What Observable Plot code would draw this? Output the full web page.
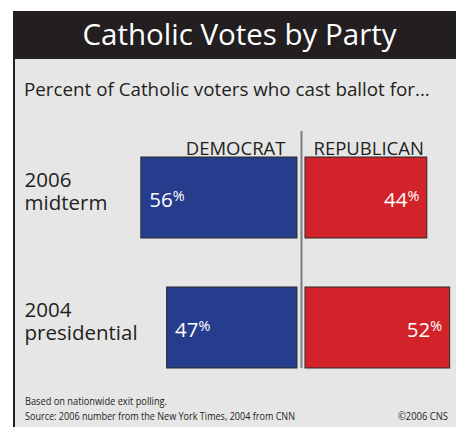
<!DOCTYPE html>
<html>
<head>
<meta charset="utf-8">
<script src="https://cdn.jsdelivr.net/npm/d3@7"></script>
<script src="https://cdn.jsdelivr.net/npm/@observablehq/plot@0.6"></script>
<style>
  html, body { margin: 0; padding: 0; background: #ffffff; }
  body { width: 456px; height: 427px; position: relative; overflow: hidden; font-family: "Open Sans", sans-serif; color: #231f20; }
  .band { position: absolute; left: 13px; top: 11px; width: 443px; height: 48px; background: #231f20; }
  .panel { position: absolute; left: 13px; top: 59px; width: 443px; height: 368px; background: #e6e6e6; border-left: 2px solid #231f20; box-sizing: border-box; }
  .t { position: absolute; white-space: nowrap; line-height: 1; }
  #title { left: 23px; width: 433px; text-align: center; color: #ffffff; font-size: 29.5px; top: 18.8px; }
  #subtitle { left: 24px; font-size: 18.8px; top: 80.3px; }
  .cap { font-size: 10.5px; transform-origin: 0 0; }
  #chart { position: absolute; left: 0; top: 0; }
</style>
</head>
<body>
<div class="band"></div>
<div class="panel"></div>
<div id="chart"></div>
<div class="t" id="title">Catholic Votes by Party</div>
<div class="t" id="subtitle">Percent of Catholic voters who cast ballot for...</div>
<div class="t cap" id="cap1" data-w="142" style="left:25px; top:395.7px;">Based on nationwide exit polling.</div>
<div class="t cap" id="cap2" data-w="270" style="left:25px; top:410.7px;">Source: 2006 number from the New York Times, 2004 from CNN</div>
<div class="t cap" id="cap3" data-w="50" data-right="448" style="top:410.7px;">©2006 CNS</div>
<script>
// ---- data ----
const rows = ["2006 midterm", "2004 presidential"];
const rowYears = ["2006", "2004"];
const rowKinds = ["midterm", "presidential"];
const parties = ["DEMOCRAT", "REPUBLICAN"];
const democrat = [56, 47];
const republican = [44, 52];

const table = rows.map((r, i) => ({row: r, year: rowYears[i], kind: rowKinds[i], dem: democrat[i], rep: republican[i]}));

const blue = "#253d8c", red = "#d2232a", ink = "#231f20";
const ML = 129.4;

const chart = Plot.plot({
  width: 456,
  height: 427,
  marginLeft: ML,
  marginRight: 0.6,
  marginTop: 108,
  marginBottom: 10,
  x: {domain: [-60, 54], axis: null},
  y: {domain: rows, axis: null, padding: 0.377, round: false},
  style: {background: "transparent", fontFamily: "'Open Sans', sans-serif", overflow: "visible"},
  marks: [
    Plot.barX(table, {x1: d => -d.dem, x2: 0, y: "row", fill: blue, stroke: "#2a2a2a", strokeWidth: 1, insetRight: 4}),
    Plot.barX(table, {x1: 0, x2: "rep", y: "row", fill: red, stroke: "#2a2a2a", strokeWidth: 1, insetLeft: 4}),
    Plot.ruleX([0], {stroke: "#7d7d7d", strokeWidth: 2, insetTop: 23, insetBottom: 49}),
    Plot.text([parties[0]], {x: 0, frameAnchor: "top", text: d => d, textAnchor: "end", dx: -16, dy: 33, fontSize: 18.5, fill: ink}),
    Plot.text([parties[1]], {x: 0, frameAnchor: "top", text: d => d, textAnchor: "start", dx: 12, dy: 33, fontSize: 18.5, fill: ink}),
    Plot.text(table, {y: "row", text: "year", frameAnchor: "left", textAnchor: "start", dx: 24 - ML, dy: -18, fontSize: 20.5, fill: ink}),
    Plot.text(table, {y: "row", text: "kind", frameAnchor: "left", textAnchor: "start", dx: 24 - ML, dy: 5, fontSize: 20.5, fill: ink}),
    Plot.text(table, {x: d => -d.dem, y: "row", text: d => d.dem + "%", textAnchor: "start", dx: 8, dy: 2, fontSize: 20.5, fill: "#ffffff"}),
    Plot.text(table, {x: "rep", y: "row", text: d => d.rep + "%", textAnchor: "end", dx: -8, dy: 2, fontSize: 20.5, fill: "#ffffff"})
  ]
});
document.getElementById("chart").appendChild(chart);

// superscript percent signs
d3.select(chart).selectAll("text").filter(function() { return /%$/.test(this.textContent); }).each(function() {
  const num = this.textContent.replace("%", "");
  this.textContent = num;
  d3.select(this).append("tspan").attr("font-size", "0.7em").attr("dy", "-0.4em").text("%");
});

// condense captions to the reference widths
document.querySelectorAll(".cap").forEach(el => {
  const w = el.getBoundingClientRect().width;
  const target = +el.dataset.w;
  el.style.transform = `scaleX(${target / w})`;
  if (el.dataset.right) el.style.left = (+el.dataset.right - target) + "px";
});
</script>
</body>
</html>
